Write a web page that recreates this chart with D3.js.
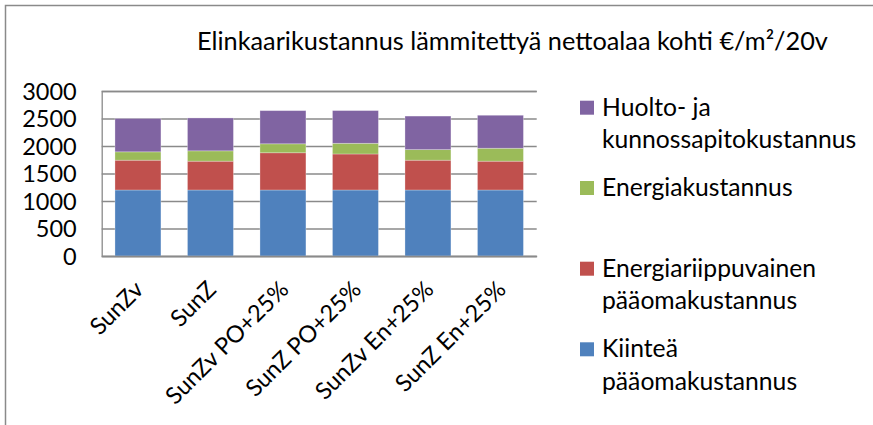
<!DOCTYPE html>
<html>
<head>
<meta charset="utf-8">
<script src="https://cdn.jsdelivr.net/npm/d3@7"></script>
<style>
  html, body { margin: 0; padding: 0; background: #fff; }
  svg { display: block; }
  text { font-family: Lato, "Open Sans", sans-serif; fill: #000; }
</style>
</head>
<body>
<svg id="chart" width="873" height="425"></svg>
<script>
// Scenario names (x axis)
const categories = ["SunZv", "SunZ", "SunZv PO+25%", "SunZ PO+25%", "SunZv En+25%", "SunZ En+25%"];

// Cost components, €/m²/20v, stacked bottom to top
const kiintea      = [1200, 1200, 1200, 1200, 1200, 1200];
const energiaPaaoma = [542, 524, 677, 655, 542, 524];
const energia      = [152, 188, 163, 194, 192, 235];
const huolto       = [606, 598, 603, 595, 610, 600];

const seriesNames = [
  "Kiinteä pääomakustannus",
  "Energiariippuvainen pääomakustannus",
  "Energiakustannus",
  "Huolto- ja kunnossapitokustannus"
];
const seriesValues = [kiintea, energiaPaaoma, energia, huolto];
const seriesColors = ["#4F81BD", "#C0504D", "#9BBB59", "#8064A2"];

const yTicks = [0, 500, 1000, 1500, 2000, 2500, 3000];
const title = "Elinkaarikustannus lämmitettyä nettoalaa kohti €/m²/20v";

// Legend entries, listed top to bottom, each split into its display lines
const legendItems = [
  { series: 3, lines: ["Huolto- ja", "kunnossapitokustannus"] },
  { series: 2, lines: ["Energiakustannus"] },
  { series: 1, lines: ["Energiariippuvainen", "pääomakustannus"] },
  { series: 0, lines: ["Kiinteä", "pääomakustannus"] }
];

const svg = d3.select("#chart");

// Outer chart frame
svg.append("rect")
  .attr("x", 5.5).attr("y", 5.5)
  .attr("width", 900).attr("height", 440)
  .attr("fill", "none").attr("stroke", "#8a8a8a").attr("stroke-width", 1.5);

const plot = { left: 101.7, right: 536.7, top: 91, bottom: 256 };

const x = d3.scaleBand()
  .domain(categories)
  .range([plot.left, plot.right])
  .paddingInner(0.366)
  .paddingOuter(0.183);

const y = d3.scaleLinear()
  .domain([0, 3000])
  .range([plot.bottom, plot.top]);

// Horizontal gridlines + y axis labels
const yAxis = d3.axisLeft(y)
  .tickValues(yTicks)
  .tickSize(-(plot.right - plot.left))
  .tickPadding(25)
  .tickFormat(d3.format("d"));

const gy = svg.append("g")
  .attr("transform", `translate(${plot.left},0)`)
  .call(yAxis);
gy.select(".domain").attr("stroke", "#8a8a8a").attr("stroke-width", 1.3);
gy.selectAll(".tick line").attr("stroke", "#8a8a8a").attr("stroke-width", 1.3);
gy.selectAll(".tick text")
  .style("font-size", "23.5px")
  .attr("fill", "#000")
  .attr("dy", "0.36em");

// Stacked bars
const stackData = categories.map((c, i) => {
  const row = { cat: c };
  seriesValues.forEach((vals, s) => { row["s" + s] = vals[i]; });
  return row;
});
const stack = d3.stack().keys(seriesValues.map((_, s) => "s" + s));
const layers = stack(stackData);

svg.append("g").selectAll("g")
  .data(layers)
  .join("g")
  .attr("fill", (d, i) => seriesColors[i])
  .selectAll("rect")
  .data(d => d)
  .join("rect")
  .attr("x", d => x(d.data.cat))
  .attr("width", x.bandwidth())
  .attr("y", d => y(d[1]))
  .attr("height", d => y(d[0]) - y(d[1]))
  .attr("stroke", "rgba(255,255,255,0.35)")
  .attr("stroke-width", 0.8);

// x axis line
const xAxis = d3.axisBottom(x).tickSize(0).tickFormat("");
const gx = svg.append("g")
  .attr("transform", `translate(0,${plot.bottom})`)
  .call(xAxis);
gx.select(".domain").attr("stroke", "#8a8a8a").attr("stroke-width", 1.3);

// Rotated category labels
svg.append("g").selectAll("text")
  .data(categories)
  .join("text")
  .attr("transform", d => `translate(${x(d) + x.bandwidth() / 2 + 7},${plot.bottom + 35}) rotate(-45)`)
  .attr("text-anchor", "end")
  .style("font-size", "23.5px")
  .text(d => d);

// Title
svg.append("text")
  .attr("x", 197)
  .attr("y", 50)
  .style("font-size", "25.3px")
  .text(title);

// Legend
const legendRows = [
  [115.7, 148.3],
  [196],
  [276.7, 309.3],
  [357.3, 390]
];
const lg = svg.append("g");
legendItems.forEach((item, k) => {
  const rows = legendRows[k];
  lg.append("rect")
    .attr("x", 580).attr("y", rows[0] - 15)
    .attr("width", 14).attr("height", 14)
    .attr("fill", seriesColors[item.series]);
  item.lines.forEach((line, j) => {
    lg.append("text")
      .attr("x", 602)
      .attr("y", rows[j])
      .style("font-size", "24.7px")
      .text(line);
  });
});
</script>
</body>
</html>
